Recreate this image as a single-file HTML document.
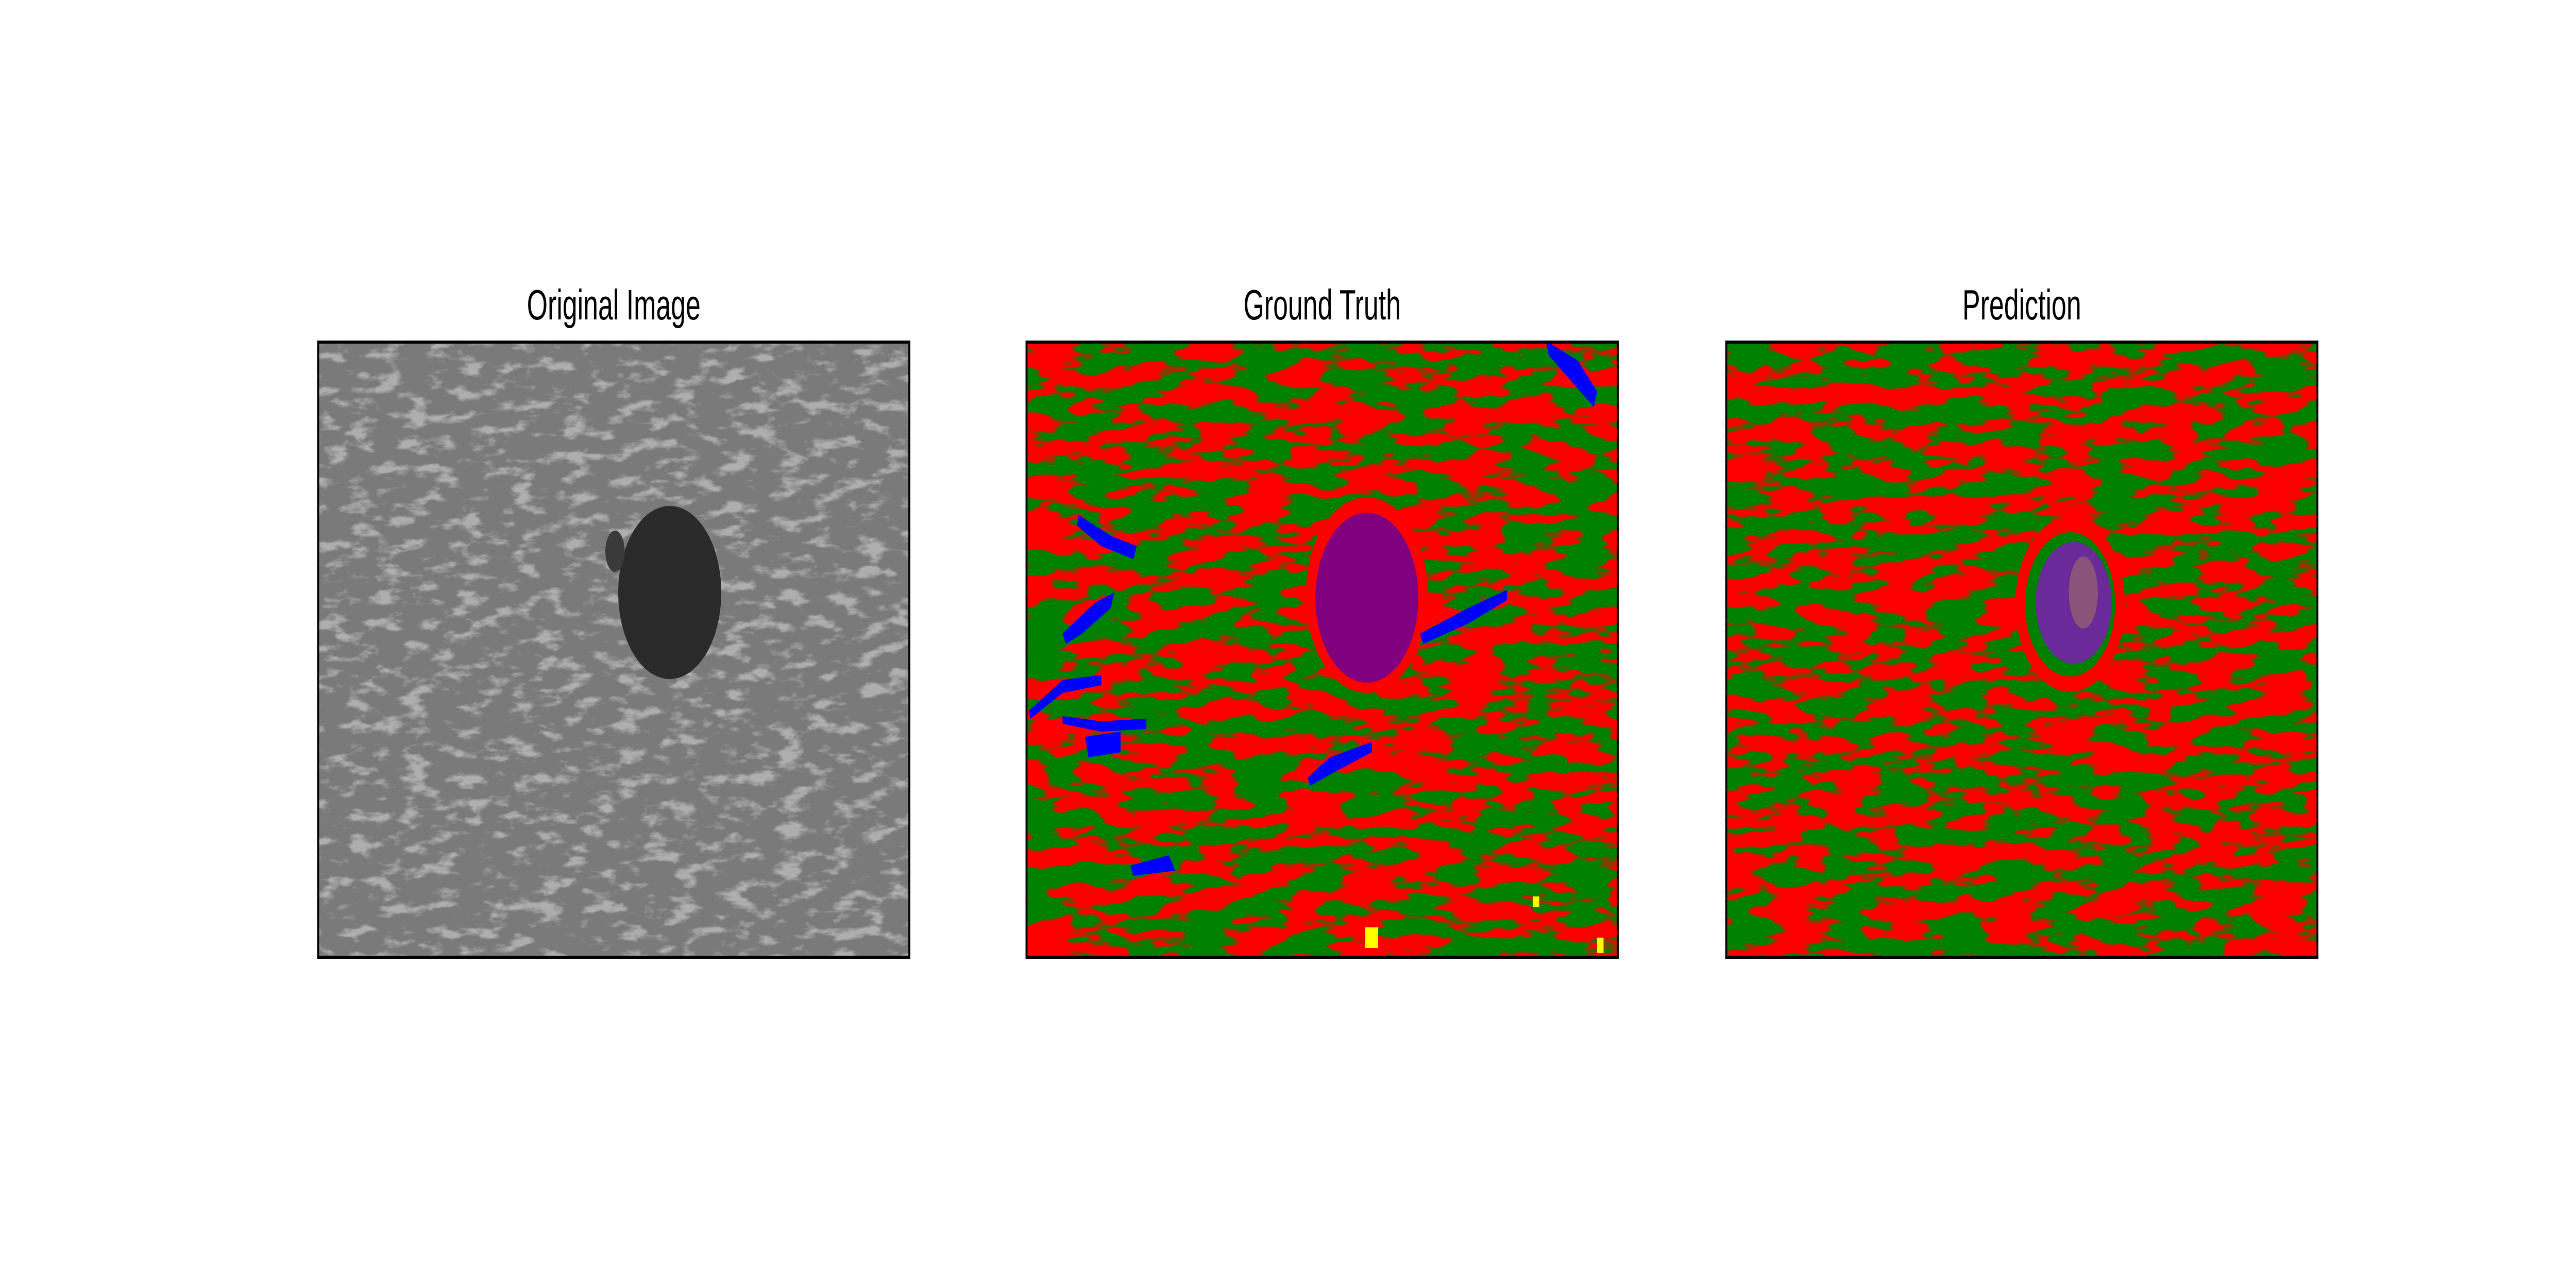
<!DOCTYPE html>
<html><head><meta charset="utf-8"><style>
html,body{margin:0;padding:0;background:#fff;overflow:hidden;width:100%;height:100%}
svg{display:block;width:100vw;height:100vh}
text{font-family:"Liberation Sans","DejaVu Sans",sans-serif}
</style></head><body>
<svg viewBox="0 0 8000 2500" preserveAspectRatio="none">
<defs>
<filter id="redmask" filterUnits="userSpaceOnUse" x="0" y="0" width="8000" height="2500">
 <feTurbulence type="fractalNoise" baseFrequency="0.006 0.028" numOctaves="3" seed="4"/>
 <feColorMatrix values="0 0 0 0 1  0 0 0 0 0  0 0 0 0 0  14 0 0 0 -6.5"/>
</filter>
<filter id="redmask2" filterUnits="userSpaceOnUse" x="0" y="0" width="8000" height="2500">
 <feTurbulence type="fractalNoise" baseFrequency="0.006 0.028" numOctaves="3" seed="9"/>
 <feColorMatrix values="0 0 0 0 1  0 0 0 0 0  0 0 0 0 0  14 0 0 0 -6.5"/>
</filter>
<filter id="greytex" filterUnits="userSpaceOnUse" x="0" y="0" width="8000" height="2500">
 <feTurbulence type="fractalNoise" baseFrequency="0.012 0.04" numOctaves="4" seed="2"/>
 <feColorMatrix values="0 0 0 0 0.85  0 0 0 0 0.85  0 0 0 0 0.85  5 0 0 0 -2.6"/>
</filter>
<clipPath id="c1"><rect x="985" y="661" width="1842" height="1200"/></clipPath>
<clipPath id="c2"><rect x="3185" y="661" width="1842" height="1200"/></clipPath>
<clipPath id="c3"><rect x="5358" y="661" width="1842" height="1200"/></clipPath>
</defs>

<text x="1906" y="620" font-size="83" text-anchor="middle">Original Image</text>
<g clip-path="url(#c1)">
 <rect x="985" y="661" width="1842" height="1200" fill="#7a7a7a"/>
 <rect x="985" y="661" width="1842" height="1200" fill="#fff" filter="url(#greytex)" opacity="0.45"/>
 <ellipse cx="2080" cy="1150" rx="160" ry="168" fill="#2a2a2a"/>
 <ellipse cx="1910" cy="1070" rx="30" ry="40" fill="#3a3a3a"/>
</g>
<rect x="988" y="664" width="1836" height="1194" fill="none" stroke="#000" stroke-width="6"/>

<text x="4106" y="620" font-size="83" text-anchor="middle">Ground Truth</text>
<g clip-path="url(#c2)">
 <rect x="3185" y="661" width="1842" height="1200" fill="#008000"/>
 <rect x="3185" y="661" width="1842" height="1200" fill="#f00" filter="url(#redmask)"/>
 <ellipse cx="4245" cy="1155" rx="190" ry="190" fill="#f00"/>
 <ellipse cx="4245" cy="1160" rx="160" ry="165" fill="#800080"/>
 <g fill="#0000ff">
  <polygon points="3350,1000 3450,1040 3530,1060 3520,1085 3420,1060 3345,1020"/>
  <polygon points="3300,1230 3400,1170 3460,1150 3450,1180 3360,1230 3310,1250"/>
  <polygon points="3195,1380 3300,1320 3420,1310 3420,1330 3300,1345 3200,1395"/>
  <polygon points="3300,1390 3420,1400 3560,1395 3560,1415 3420,1420 3300,1405"/>
  <polygon points="3370,1430 3480,1420 3480,1460 3380,1470"/>
  <polygon points="4060,1510 4130,1470 4260,1440 4260,1460 4140,1500 4070,1525"/>
  <polygon points="4410,1230 4560,1180 4680,1145 4680,1165 4560,1210 4420,1250"/>
  <polygon points="4800,661 4900,700 4960,760 4950,790 4880,740 4810,690"/>
  <polygon points="3510,1680 3630,1660 3650,1690 3520,1700"/>
 </g>
 <g fill="#ffff00">
  <rect x="4240" y="1800" width="40" height="40"/>
  <rect x="4760" y="1740" width="20" height="20"/>
  <rect x="4960" y="1820" width="20" height="30"/>
 </g>
</g>
<rect x="3188" y="664" width="1836" height="1194" fill="none" stroke="#000" stroke-width="6"/>

<text x="6279" y="620" font-size="83" text-anchor="middle">Prediction</text>
<g clip-path="url(#c3)">
 <rect x="5358" y="661" width="1842" height="1200" fill="#008000"/>
 <rect x="5358" y="661" width="1842" height="1200" fill="#f00" filter="url(#redmask2)"/>
 <ellipse cx="6429" cy="1173" rx="170" ry="170" fill="#f00"/>
 <ellipse cx="6429" cy="1173" rx="140" ry="140" fill="#008000"/>
 <ellipse cx="6440" cy="1170" rx="118" ry="118" fill="#6a2a9a"/>
 <ellipse cx="6470" cy="1150" rx="45" ry="70" fill="#c8a040" opacity="0.35"/>
</g>
<rect x="5361" y="664" width="1836" height="1194" fill="none" stroke="#000" stroke-width="6"/>
</svg>
</body></html>
